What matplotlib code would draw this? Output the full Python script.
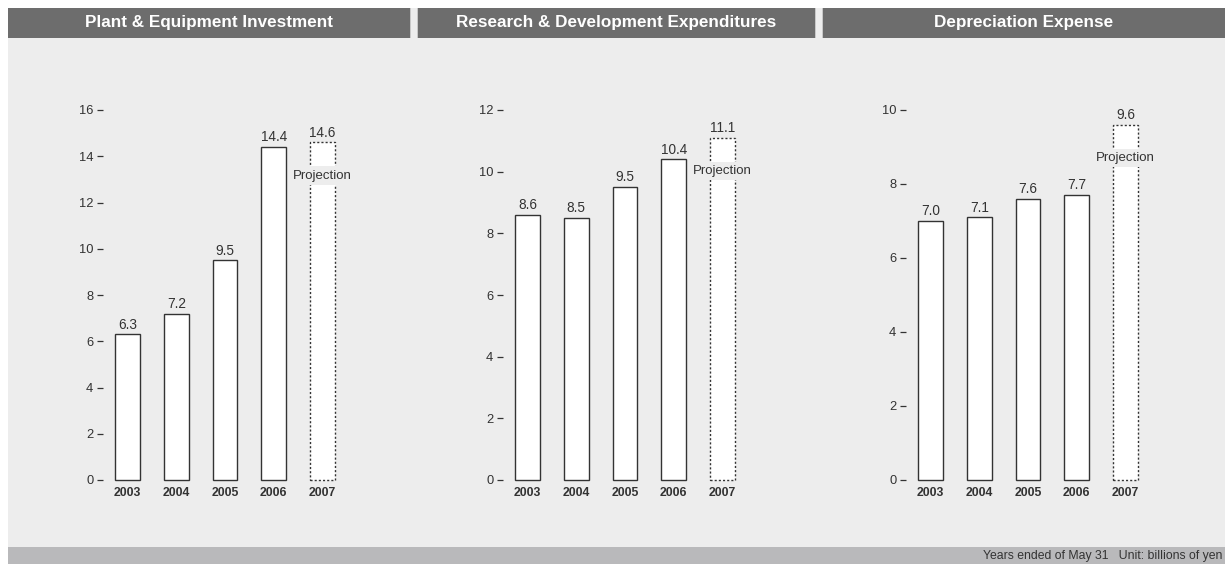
import matplotlib.pyplot as plt
from matplotlib.patches import Rectangle

# data (billions of yen, fiscal years ended May 31)
years = ['2003', '2004', '2005', '2006', '2007']
plant_equipment = [6.3, 7.2, 9.5, 14.4, 14.6]
research_dev = [8.6, 8.5, 9.5, 10.4, 11.1]
depreciation = [7.0, 7.1, 7.6, 7.7, 9.6]
titles = ['Plant & Equipment Investment',
          'Research & Development Expenditures',
          'Depreciation Expense']
y_tops = [16, 12, 10]
projection_label = 'Projection'
footnote = 'Years ended of May 31   Unit: billions of yen'

W, H = 1232, 564
BG = '#ededed'
HEADER = '#6d6d6d'
FOOTER = '#b9b9bb'
INK = '#333333'
plt.rcParams['font.family'] = ['Liberation Sans', 'DejaVu Sans']

fig = plt.figure(figsize=(W / 100, H / 100), dpi=100)
fig.patch.set_facecolor('white')


def px_rect(x0, y0, x1, y1, color, z=0):
    # rectangle given in pixel coords measured from the top-left corner
    fig.patches.append(Rectangle((x0 / W, 1 - y1 / H), (x1 - x0) / W, (y1 - y0) / H,
                                 transform=fig.transFigure, facecolor=color,
                                 edgecolor='none', zorder=z))


# page background, footer band
px_rect(8, 8, 1225, 547, BG)
px_rect(8, 547, 1225, 564, FOOTER)
fig.text(1222 / W, 1 - 556 / H, footnote, ha='right', va='center',
         fontsize=8.8, color=INK)

panels = [
    dict(head=(8, 410), first=127.5, values=plant_equipment),
    dict(head=(418, 815), first=527.5, values=research_dev),
    dict(head=(823, 1225), first=930.5, values=depreciation),
]

step = 48.75          # px between bar centres
y_zero, y_tick_top, y_axes_top = 480, 110, 85

for p, title, top in zip(panels, titles, y_tops):
    hx0, hx1 = p['head']
    px_rect(hx0, 8, hx1, 38, HEADER, z=1)
    # thin shaded edges on the header separators
    if hx0 > 8:
        px_rect(hx0 - 8, 8, hx0 - 7, 38, '#c8c8c8', z=1)
        px_rect(hx0 - 1, 8, hx0, 38, '#c8c8c8', z=1)
    fig.text((hx0 + hx1) / 2 / W, 1 - 23 / H, title, ha='center', va='center',
             fontsize=12.3, fontweight='bold', color='white')

    left_px = p['first'] - 0.5 * step
    right_px = p['first'] + 4.7 * step
    ax = fig.add_axes([left_px / W, 1 - y_zero / H,
                       (right_px - left_px) / W, (y_zero - y_axes_top) / H])
    ax.set_zorder(5)
    ax.set_facecolor('none')
    ax.set_xlim(-0.5, 4.7)
    ax.set_ylim(0, top * (y_zero - y_axes_top) / (y_zero - y_tick_top))
    for s in ax.spines.values():
        s.set_visible(False)

    vals = p['values']
    x = list(range(len(years)))
    solid = ax.bar(x[:-1], vals[:-1], width=0.51, color='white', edgecolor=INK,
                   linewidth=1.0, zorder=2)
    proj = ax.bar(x[-1:], vals[-1:], width=0.51, color='white', edgecolor=INK,
                  linewidth=1.0, linestyle=(0, (1.5, 1.5)), zorder=2)
    # keep the bottom edge of each bar visible at the zero line
    for r in list(solid) + list(proj):
        r.set_clip_on(False)

    for xi, v in zip(x, vals):
        ax.annotate(f'{v:.1f}', (xi, v), xytext=(0, 2), textcoords='offset points',
                    ha='center', va='bottom', fontsize=9.8, color=INK)

    # projection tag sits across the dashed bar
    ax.annotate(projection_label, (x[-1], vals[-1]), xytext=(0, -24),
                textcoords='offset points', ha='center', va='center',
                fontsize=9.5, color=INK, zorder=3,
                bbox=dict(boxstyle='square,pad=0.25', facecolor=BG, edgecolor='none'))

    ax.set_xticks(x)
    ax.set_xticklabels(years, fontweight='bold', fontsize=8.8, color=INK)
    ax.tick_params(axis='x', length=0, pad=5)
    ax.set_yticks(range(0, top + 1, 2))
    ax.tick_params(axis='y', direction='out', length=4.5, width=0.9,
                   color=INK, labelcolor=INK, labelsize=9.3, pad=2.5)

fig.savefig('out.png', dpi=100, facecolor=fig.get_facecolor())
